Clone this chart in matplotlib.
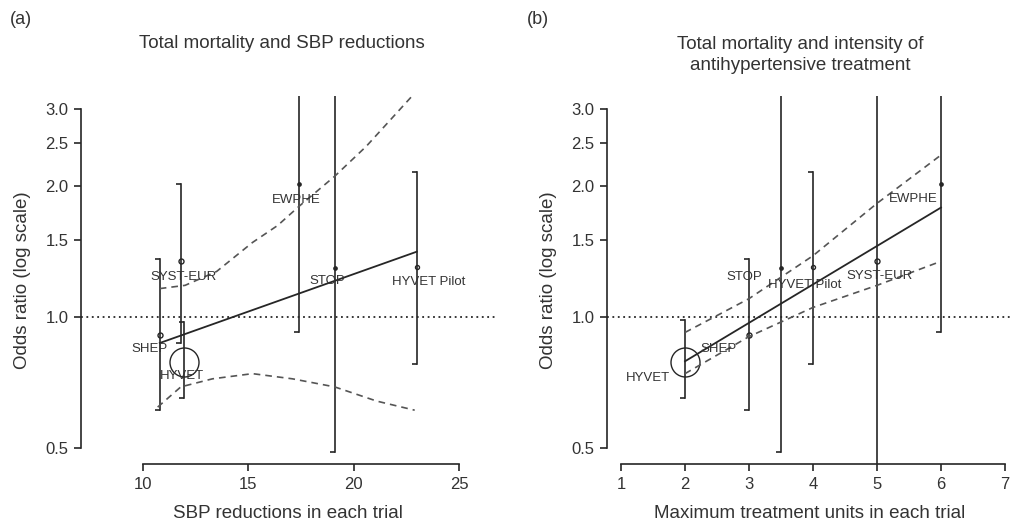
import matplotlib
matplotlib.use('Agg')
import matplotlib.pyplot as plt

plt.rcParams['font.family'] = ['Liberation Sans', 'DejaVu Sans']

# ---- data ----
trials = ['SHEP', 'SYST-EUR', 'HYVET', 'EWPHE', 'STOP', 'HYVET Pilot']
odds = [0.91, 1.34, 0.785, 2.02, 1.29, 1.30]
ci_low = [0.61, 0.87, 0.65, 0.92, 0.49, 0.78]
ci_high = [1.36, 2.02, 0.97, 4.5, 4.5, 2.15]

# panel (a): SBP reduction per trial
sbp_drop = [10.8, 11.8, 11.95, 17.4, 19.1, 23.0]
# panel (b): maximum treatment units per trial
units = [3.0, 5.0, 2.0, 6.0, 3.5, 4.0]
ci_low_b = [0.61, 0.45, 0.65, 0.92, 0.49, 0.78]
ci_high_b = [1.36, 4.5, 0.98, 4.5, 4.5, 2.15]

# meta-regression lines (a)
fit_a_x = [10.8, 23.0]
fit_a_y = [0.87, 1.41]
band_a_hi_x = [10.8, 12.0, 13.5, 15.2, 16.4, 17.4, 19.1, 20.6, 22.7, 23.0]
band_a_hi_y = [1.16, 1.18, 1.27, 1.48, 1.62, 1.79, 2.10, 2.46, 3.18, 3.30]
band_a_lo_x = [10.7, 11.8, 13.3, 15.2, 17.1, 19.1, 21.1, 22.9]
band_a_lo_y = [0.62, 0.69, 0.72, 0.74, 0.72, 0.69, 0.64, 0.61]

# meta-regression lines (b)
fit_b_x = [2, 6]
fit_b_y = [0.79, 1.78]
band_b_x = [2, 3, 4, 5, 6]
band_b_hi = [0.92, 1.10, 1.38, 1.82, 2.35]
band_b_lo = [0.74, 0.90, 1.05, 1.18, 1.34]

yticks = [0.5, 1.0, 1.5, 2.0, 2.5, 3.0]

# ---- styles ----
marker_px = [5, 5, 29, 2.5, 2.5, 4]
label_off_a = [(-10, -14), (3, -16), (-2, -14), (-3, -16), (-7, -13), (12, -15)]
label_off_b = [(-30, -14), (3, -15), (-37, -16), (-28, -15), (-37, -9), (-8, -18)]
ink = '#262626'
txt = '#333333'
cap = [(-1, 0), (0, 0)]

fig = plt.figure(figsize=(10.12, 5.23), dpi=100)
ax_a = fig.add_axes([0.0800, 0.1128, 0.4091, 0.7036])
ax_b = fig.add_axes([0.5998, 0.1128, 0.4002, 0.7036])


def draw_panel(ax, xs, lo, hi, offsets):
    ax.set_yscale('log')
    ax.axhline(1.0, color=ink, lw=1.3, ls=(0, (1, 2)))
    for i, name in enumerate(trials):
        ax.plot([xs[i], xs[i]], [lo[i], hi[i]], color=ink, lw=1.2)
        ax.plot([xs[i], xs[i]], [lo[i], hi[i]], ls='none', marker=cap,
                ms=7, mew=1.2, mec=ink, mfc='none')
        ms = marker_px[i] * 0.72
        ax.plot(xs[i], odds[i], 'o', ms=ms, mfc='none', mec=ink,
                mew=1.0 if marker_px[i] > 3 else 1.6)
        ax.annotate(name, (xs[i], odds[i]), xytext=offsets[i],
                    textcoords='offset pixels', ha='center', va='center',
                    fontsize=9.5, color=txt)
    ax.set_ylim(0.459, 3.21)
    ax.set_yticks(yticks)
    ax.set_yticklabels(['%.1f' % v for v in yticks])
    ax.minorticks_off()
    for s in ['top', 'right']:
        ax.spines[s].set_visible(False)
    ax.spines['left'].set_bounds(0.5, 3.0)
    ax.spines['left'].set_color(ink)
    ax.spines['bottom'].set_color(ink)
    ax.spines['left'].set_linewidth(1.2)
    ax.spines['bottom'].set_linewidth(1.2)
    ax.tick_params(length=5, width=1.2, color=ink, labelsize=12,
                   labelcolor=txt, pad=4)
    ax.set_ylabel('Odds ratio (log scale)', fontsize=13.5, color=txt,
                  labelpad=10)


# panel (a)
draw_panel(ax_a, sbp_drop, ci_low, ci_high, label_off_a)
ax_a.plot(fit_a_x, fit_a_y, color=ink, lw=1.3)
ax_a.plot(band_a_hi_x, band_a_hi_y, color='#555555', lw=1.2, ls=(0, (4, 3)))
ax_a.plot(band_a_lo_x, band_a_lo_y, color='#555555', lw=1.2, ls=(0, (4, 3)))
ax_a.set_xlim(7.06, 26.71)
ax_a.set_xticks([10, 15, 20, 25])
ax_a.spines['bottom'].set_bounds(10, 25)
ax_a.spines['bottom'].set_position(('outward', 0))
ax_a.set_xlabel('SBP reductions in each trial', fontsize=13.5, color=txt,
                labelpad=10)

# panel (b)
draw_panel(ax_b, units, ci_low_b, ci_high_b, label_off_b)
ax_b.plot(fit_b_x, fit_b_y, color=ink, lw=1.3)
ax_b.plot(band_b_x, band_b_hi, color='#555555', lw=1.2, ls=(0, (4, 3)))
ax_b.plot(band_b_x, band_b_lo, color='#555555', lw=1.2, ls=(0, (4, 3)))
ax_b.set_xlim(0.781, 7.11)
ax_b.set_xticks([1, 2, 3, 4, 5, 6, 7])
ax_b.spines['bottom'].set_bounds(1, 7)
ax_b.set_xlabel('Maximum treatment units in each trial', fontsize=13.5,
                color=txt, labelpad=10)

fig.text(10 / 1012, 1 - 20 / 523, '(a)', fontsize=13, color=txt, va='center')
fig.text(527 / 1012, 1 - 20 / 523, '(b)', fontsize=13, color=txt, va='center')
fig.text(282 / 1012, 1 - 44 / 523, 'Total mortality and SBP reductions',
         fontsize=13.5, color=txt, ha='center', va='center')
fig.text(800 / 1012, 1 - 55 / 523,
         'Total mortality and intensity of\nantihypertensive treatment',
         fontsize=13.5, color=txt, ha='center', va='center', linespacing=1.3)

fig.savefig('out.png', dpi=100)
